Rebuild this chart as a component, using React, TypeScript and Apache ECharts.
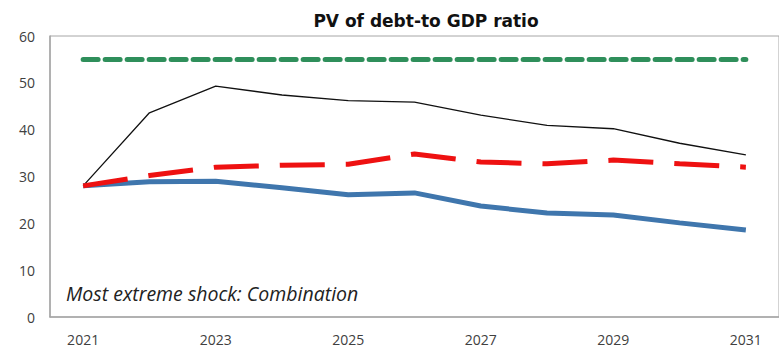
import React, { useEffect, useRef } from "react";
import * as echarts from "echarts";

const years = ["2021", "2022", "2023", "2024", "2025", "2026", "2027", "2028", "2029", "2030", "2031"];
const threshold = [55, 55, 55, 55, 55, 55, 55, 55, 55, 55, 55];
const mostExtreme = [28, 43.6, 49.3, 47.4, 46.2, 45.9, 43.1, 40.9, 40.2, 37.1, 34.6];
const historical = [28, 30.2, 32, 32.4, 32.6, 34.8, 33.1, 32.7, 33.5, 32.7, 32];
const baseline = [28, 28.9, 29, 27.6, 26.1, 26.5, 23.7, 22.2, 21.8, 20.1, 18.6];
const title = "PV of debt-to GDP ratio";
const note = "Most extreme shock: Combination";

export default function App() {
  const ref = useRef<HTMLDivElement>(null);
  useEffect(() => {
    const chart = echarts.init(ref.current!, null, { renderer: "svg" });
    const font = "'Open Sans', 'Noto Sans', sans-serif";
    chart.setOption({
      animation: false,
      title: {
        text: title,
        left: 421,
        top: 7,
        textAlign: "center",
        textStyle: { fontFamily: "'DejaVu Sans', sans-serif", fontSize: 17, fontWeight: "bold", color: "#111" },
      },
      grid: {
        left: 50,
        top: 36,
        width: 737,
        height: 281,
        show: true,
        borderColor: "#a6a6a6",
        borderWidth: 1,
        backgroundColor: "transparent",
      },
      xAxis: {
        type: "category",
        data: years,
        boundaryGap: true,
        axisLine: { lineStyle: { color: "#a6a6a6", width: 1.5 } },
        axisTick: { inside: true, length: 5, interval: 1, lineStyle: { color: "#a6a6a6" } },
        axisLabel: { interval: 1, margin: 15, fontFamily: font, fontSize: 14, color: "#404040" },
        splitLine: { show: false },
      },
      yAxis: {
        type: "value",
        min: 0,
        max: 60,
        interval: 10,
        axisLine: { show: true, lineStyle: { color: "#a6a6a6", width: 1.5 } },
        axisTick: { show: false },
        splitLine: { show: false },
        axisLabel: { margin: 15, fontFamily: font, fontSize: 14, color: "#404040" },
      },
      series: [
        {
          type: "line",
          data: threshold,
          symbol: "none",
          lineStyle: { color: "#2f8f5b", width: 5, type: [15, 7], cap: "round" },
        },
        {
          type: "line",
          data: mostExtreme,
          symbol: "none",
          lineStyle: { color: "#111", width: 1.3 },
        },
        {
          type: "line",
          data: baseline,
          symbol: "none",
          lineStyle: { color: "#3f76ad", width: 5 },
        },
        {
          type: "line",
          data: historical,
          symbol: "none",
          lineStyle: { color: "#ee1111", width: 5, type: [45, 21] },
        },
      ],
      graphic: [
        {
          type: "text",
          left: 66,
          top: 283,
          style: {
            text: note,
            fontFamily: font,
            fontSize: 19.5,
            fontStyle: "italic",
            fill: "#222",
          },
        },
      ],
    });
    return () => chart.dispose();
  }, []);
  return (
    <div
      ref={ref}
      style={{ position: "absolute", left: 0, top: 0, width: 779, height: 351, background: "#fff" }}
    />
  );
}
